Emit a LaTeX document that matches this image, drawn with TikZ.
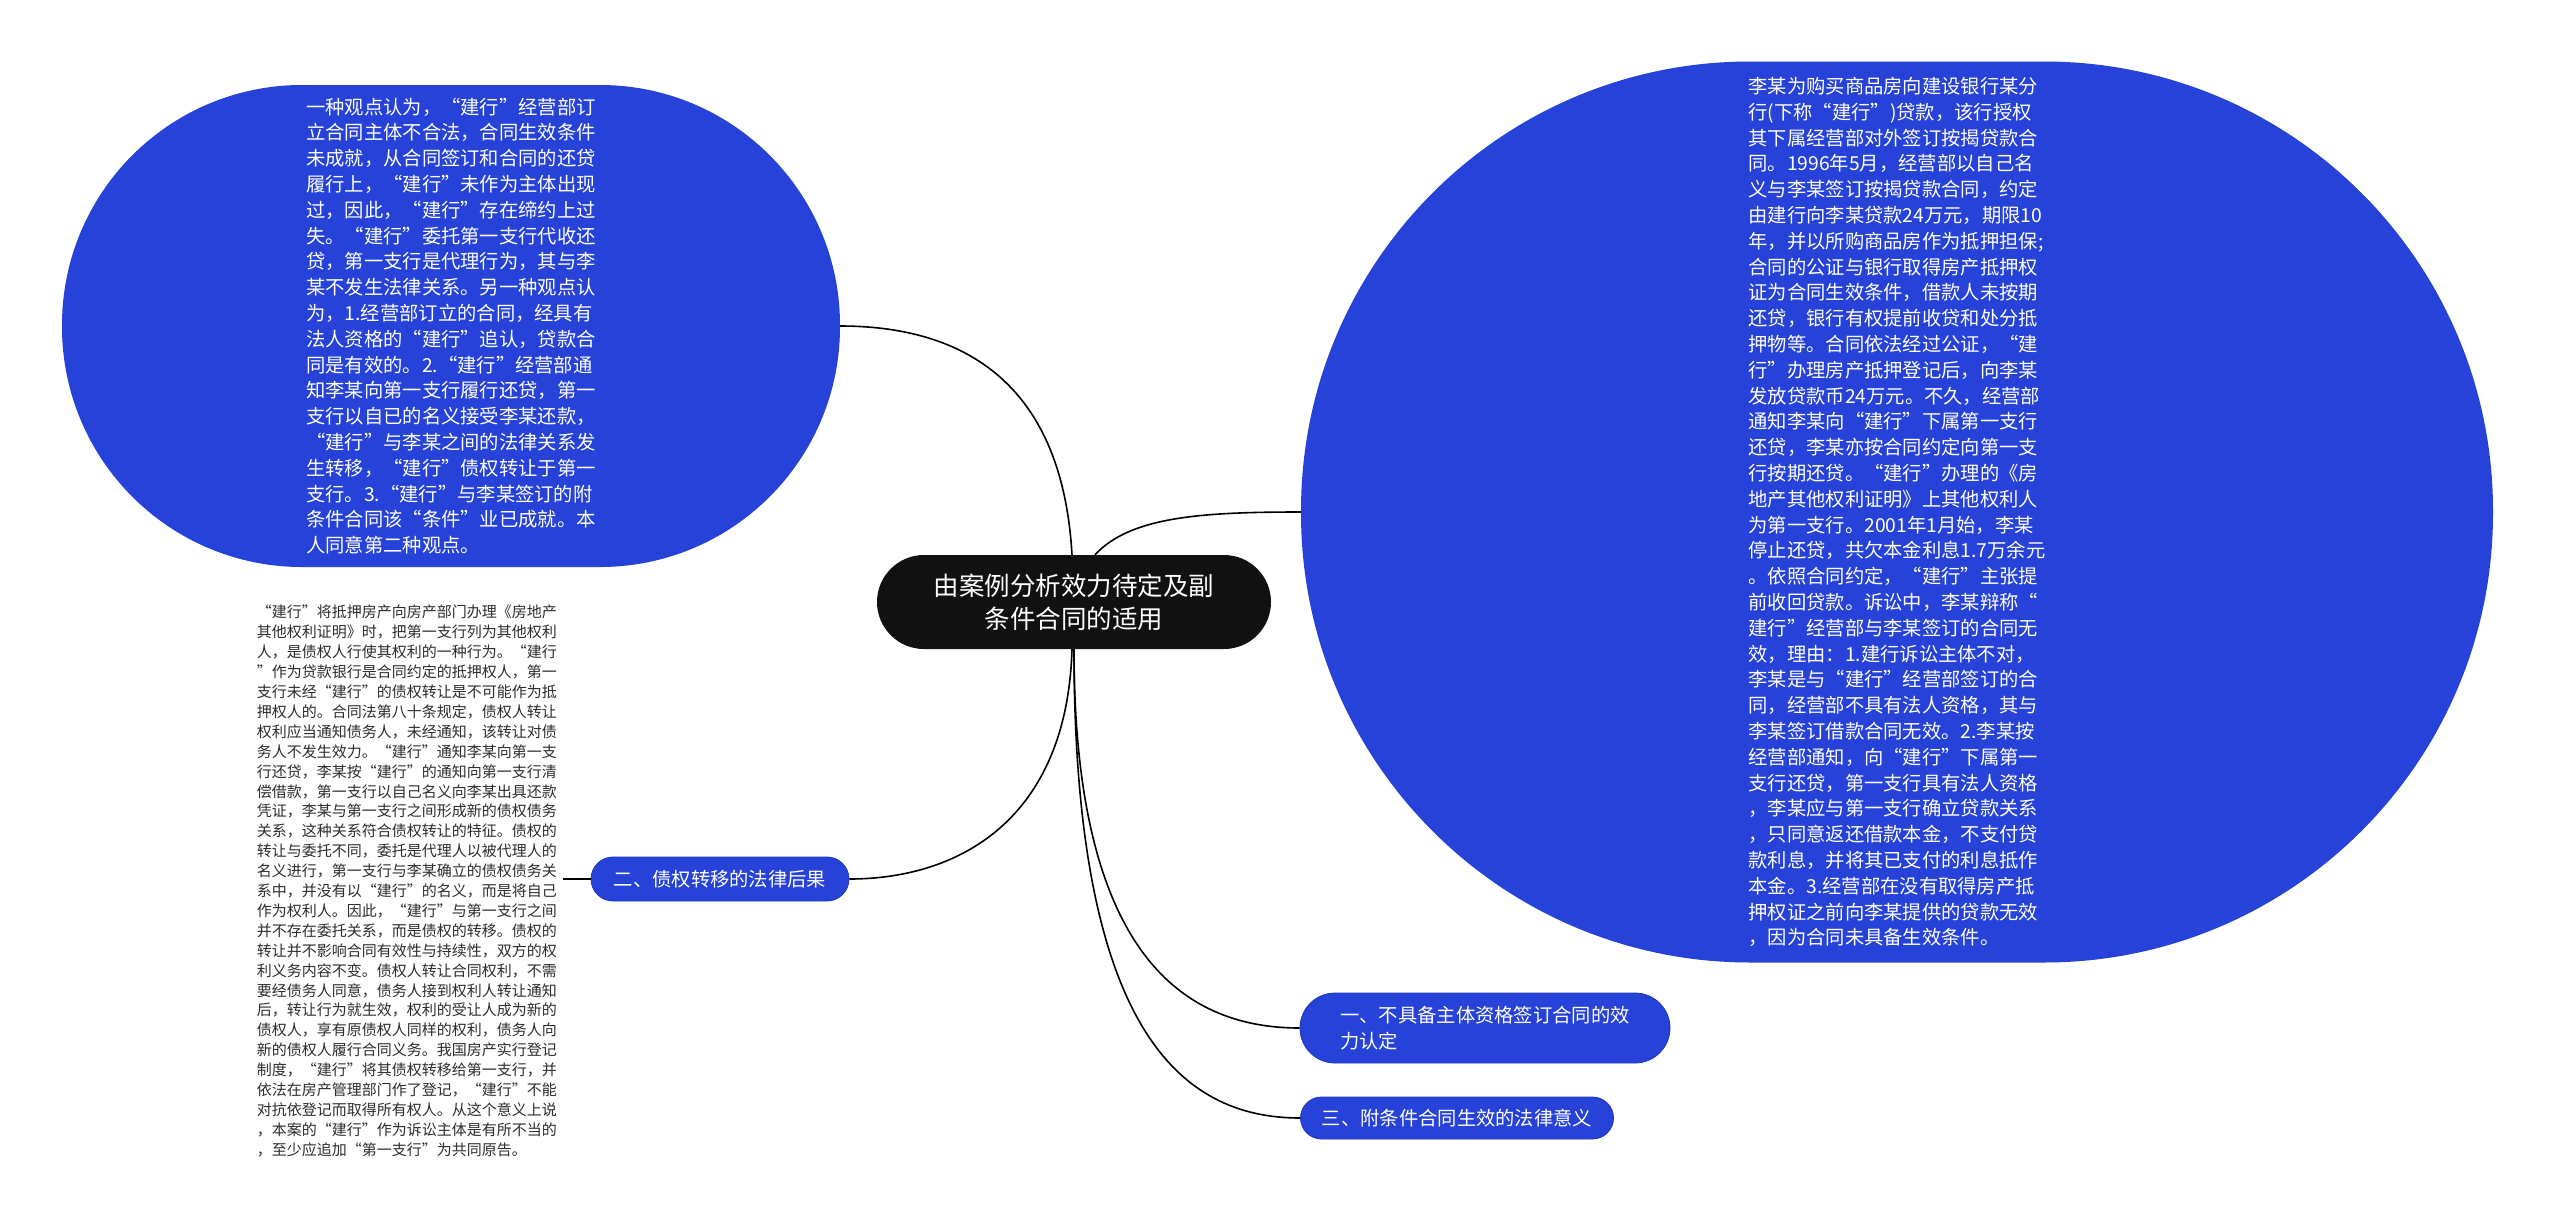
\documentclass[tikz,border=0pt]{standalone}
\usepackage{fontspec}
\newfontfamily\cjk{Noto Sans CJK SC}
\definecolor{mapblue}{RGB}{38,66,216}
\definecolor{textgray}{RGB}{45,45,45}
\definecolor{rootblack}{RGB}{17,17,17}
\begin{document}
\begin{tikzpicture}[x=1pt,y=-1pt,
  bigbox/.style={rectangle, fill=mapblue, draw=none, inner sep=0pt, text=white, align=left,
    font=\cjk\fontsize{19.3}{25.8}\selectfont},
  topic/.style={rectangle, fill=mapblue, draw=mapblue!85!black, line width=0.8pt, text=white,
    inner sep=0pt, font=\cjk\fontsize{19.3}{26}\selectfont},
  rootbox/.style={rectangle, fill=rootblack, draw=none, text=white, align=center, inner sep=0pt,
    font=\cjk\fontsize{25.5}{33}\selectfont},
  plaintext/.style={text=textgray, align=left, inner sep=0pt,
    font=\cjk\fontsize{15}{19.9}\selectfont},
  conn/.style={draw=black, line width=1.6pt}
]
\fill[white] (0,0) rectangle (2560,1221);
\useasboundingbox (0,0) rectangle (2560,1221);

% root
\node[rootbox, minimum width=394pt, minimum height=94pt, rounded corners=47pt] (root) at (1074,602)
  {由案例分析效力待定及副\\条件合同的适用};

% left big
\node[bigbox, minimum width=778pt, minimum height=482pt, rounded corners=240pt] (bigL) at (451,326)
{一种观点认为，“建行”经营部订\\
立合同主体不合法，合同生效条件\\
未成就，从合同签订和合同的还贷\\
履行上，“建行”未作为主体出现\\
过，因此，“建行”存在缔约上过\\
失。“建行”委托第一支行代收还\\
贷，第一支行是代理行为，其与李\\
某不发生法律关系。另一种观点认\\
为，1.经营部订立的合同，经具有\\
法人资格的“建行”追认，贷款合\\
同是有效的。2.“建行”经营部通\\
知李某向第一支行履行还贷，第一\\
支行以自已的名义接受李某还款，\\
“建行”与李某之间的法律关系发\\
生转移，“建行”债权转让于第一\\
支行。3.“建行”与李某签订的附\\
条件合同该“条件”业已成就。本\\
人同意第二种观点。};

% right big
\node[bigbox, minimum width=1192pt, minimum height=901pt, rounded corners=449pt] (bigR) at (1897,512)
{李某为购买商品房向建设银行某分\\
行(下称“建行”)贷款，该行授权\\
其下属经营部对外签订按揭贷款合\\
同。1996年5月，经营部以自己名\\
义与李某签订按揭贷款合同，约定\\
由建行向李某贷款24万元，期限10\\
年，并以所购商品房作为抵押担保;\\
合同的公证与银行取得房产抵押权\\
证为合同生效条件，借款人未按期\\
还贷，银行有权提前收贷和处分抵\\
押物等。合同依法经过公证，“建\\
行”办理房产抵押登记后，向李某\\
发放贷款币24万元。不久，经营部\\
通知李某向“建行”下属第一支行\\
还贷，李某亦按合同约定向第一支\\
行按期还贷。“建行”办理的《房\\
地产其他权利证明》上其他权利人\\
为第一支行。2001年1月始，李某\\
停止还贷，共欠本金利息1.7万余元\\
。依照合同约定，“建行”主张提\\
前收回贷款。诉讼中，李某辩称“\\
建行”经营部与李某签订的合同无\\
效，理由：1.建行诉讼主体不对，\\
李某是与“建行”经营部签订的合\\
同，经营部不具有法人资格，其与\\
李某签订借款合同无效。2.李某按\\
经营部通知，向“建行”下属第一\\
支行还贷，第一支行具有法人资格\\
，李某应与第一支行确立贷款关系\\
，只同意返还借款本金，不支付贷\\
款利息，并将其已支付的利息抵作\\
本金。3.经营部在没有取得房产抵\\
押权证之前向李某提供的贷款无效\\
，因为合同未具备生效条件。};

% topics
\node[topic, minimum width=258pt, minimum height=44pt, rounded corners=22pt] (n2) at (720,879)
  {二、债权转移的法律后果};
\node[topic, align=left, minimum width=370pt, minimum height=70pt, rounded corners=35pt] (n1) at (1485,1028)
  {一、不具备主体资格签订合同的效\\力认定};
\node[topic, minimum width=313pt, minimum height=42pt, rounded corners=21pt] (n3) at (1457,1118)
  {三、附条件合同生效的法律意义};

% plain text under n2
\node[plaintext, anchor=east] (t2) at (557,881)
{“建行”将抵押房产向房产部门办理《房地产\\
其他权利证明》时，把第一支行列为其他权利\\
人，是债权人行使其权利的一种行为。“建行\\
”作为贷款银行是合同约定的抵押权人，第一\\
支行未经“建行”的债权转让是不可能作为抵\\
押权人的。合同法第八十条规定，债权人转让\\
权利应当通知债务人，未经通知，该转让对债\\
务人不发生效力。“建行”通知李某向第一支\\
行还贷，李某按“建行”的通知向第一支行清\\
偿借款，第一支行以自己名义向李某出具还款\\
凭证，李某与第一支行之间形成新的债权债务\\
关系，这种关系符合债权转让的特征。债权的\\
转让与委托不同，委托是代理人以被代理人的\\
名义进行，第一支行与李某确立的债权债务关\\
系中，并没有以“建行”的名义，而是将自己\\
作为权利人。因此，“建行”与第一支行之间\\
并不存在委托关系，而是债权的转移。债权的\\
转让并不影响合同有效性与持续性，双方的权\\
利义务内容不变。债权人转让合同权利，不需\\
要经债务人同意，债务人接到权利人转让通知\\
后，转让行为就生效，权利的受让人成为新的\\
债权人，享有原债权人同样的权利，债务人向\\
新的债权人履行合同义务。我国房产实行登记\\
制度，“建行”将其债权转移给第一支行，并\\
依法在房产管理部门作了登记，“建行”不能\\
对抗依登记而取得所有权人。从这个意义上说\\
，本案的“建行”作为诉讼主体是有所不当的\\
，至少应追加“第一支行”为共同原告。};

% connectors
\draw[conn] ([xshift=-2pt]root.north) .. controls +(-10,-175) and +(120,0) .. (bigL.east);
\draw[conn] ([xshift=21pt]root.north) .. controls +(35,-38) and +(-100,0) .. (bigR.west);
\draw[conn] ([xshift=-2pt]root.south) .. controls +(-5,170) and +(110,0) .. (n2.east);
\draw[conn] (root.south) .. controls +(0,300) and +(-120,0) .. (n1.west);
\draw[conn] (root.south) .. controls +(0,380) and +(-120,0) .. (n3.west);
\draw[conn] (n2.west) -- ([xshift=6pt]t2.east |- n2.west);
\end{tikzpicture}
\end{document}
